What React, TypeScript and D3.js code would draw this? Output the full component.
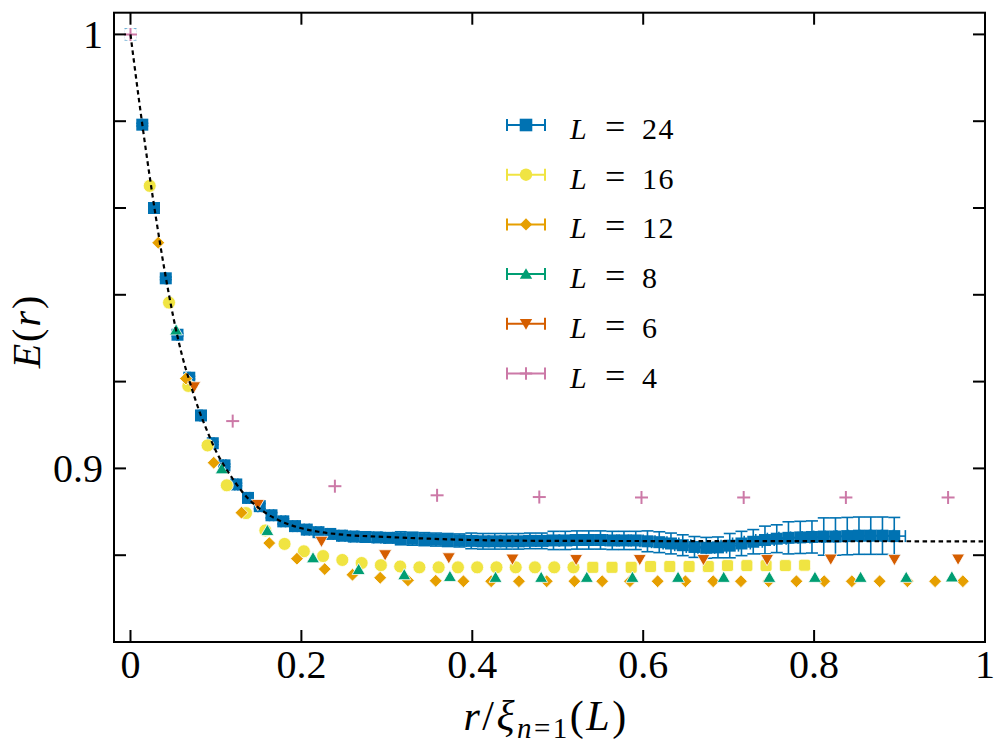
import React from 'react';
import * as d3 from 'd3';

// ---------- data ----------
const x24 = [0, 0.0138, 0.0275, 0.0413, 0.055, 0.0688, 0.0825, 0.0963, 0.11, 0.1238, 0.1375, 0.1513, 0.165, 0.1788, 0.1925, 0.2063, 0.22, 0.2338, 0.2475, 0.2613, 0.275, 0.2888, 0.3025, 0.3163, 0.33, 0.3438, 0.3575, 0.3713, 0.385, 0.3988, 0.4125, 0.4263, 0.44, 0.4538, 0.4675, 0.4813, 0.495, 0.5088, 0.5225, 0.5363, 0.55, 0.5638, 0.5775, 0.5913, 0.605, 0.6188, 0.6325, 0.6463, 0.66, 0.6738, 0.6875, 0.7013, 0.715, 0.7288, 0.7425, 0.7563, 0.77, 0.7838, 0.7975, 0.8113, 0.825, 0.8388, 0.8525, 0.8663, 0.88, 0.8938];
const y24 = [1.0, 0.9792, 0.96, 0.9438, 0.9308, 0.9209, 0.9122, 0.9058, 0.9007, 0.8963, 0.8932, 0.8913, 0.8892, 0.8878, 0.8867, 0.8859, 0.8853, 0.8849, 0.8845, 0.8843, 0.8842, 0.8841, 0.884, 0.8839, 0.8838, 0.8837, 0.8836, 0.8835, 0.8834, 0.8833, 0.8832, 0.8832, 0.8832, 0.8832, 0.8833, 0.8833, 0.8834, 0.8834, 0.8835, 0.8835, 0.8835, 0.8834, 0.8834, 0.8834, 0.8832, 0.883, 0.8827, 0.8823, 0.8819, 0.8817, 0.8818, 0.8822, 0.8827, 0.8831, 0.8835, 0.8838, 0.884, 0.8841, 0.8842, 0.8843, 0.8843, 0.8844, 0.8845, 0.8845, 0.8845, 0.8844];
const yErr24 = [0.0003, 0.0003, 0.0003, 0.0003, 0.0003, 0.0003, 0.0003, 0.0003, 0.0003, 0.0003, 0.0006, 0.0006, 0.0006, 0.0006, 0.0006, 0.0006, 0.0006, 0.0006, 0.0011, 0.0011, 0.0011, 0.0011, 0.0011, 0.0015, 0.0015, 0.0015, 0.0015, 0.0015, 0.0015, 0.0018, 0.0018, 0.0018, 0.0018, 0.0018, 0.0018, 0.0018, 0.0021, 0.0021, 0.0021, 0.0021, 0.0021, 0.0021, 0.0021, 0.0021, 0.0024, 0.0024, 0.0024, 0.0024, 0.0024, 0.0024, 0.0024, 0.0028, 0.0028, 0.0028, 0.0032, 0.0032, 0.0037, 0.0037, 0.0037, 0.0043, 0.0043, 0.0043, 0.0043, 0.0043, 0.0043, 0.0043];
const xErr24 = [0, 0.0002, 0.0004, 0.0006, 0.0008, 0.001, 0.0012, 0.0014, 0.0016, 0.0018, 0.002, 0.0022, 0.0024, 0.0026, 0.0028, 0.003, 0.0032, 0.0034, 0.0036, 0.0038, 0.004, 0.0042, 0.0044, 0.0046, 0.0048, 0.005, 0.0052, 0.0054, 0.0056, 0.0058, 0.006, 0.0062, 0.0064, 0.0066, 0.0068, 0.007, 0.0072, 0.0074, 0.0076, 0.0078, 0.008, 0.0082, 0.0084, 0.0086, 0.0088, 0.009, 0.0092, 0.0094, 0.0096, 0.0098, 0.01, 0.0102, 0.0104, 0.0106, 0.0108, 0.011, 0.0112, 0.0114, 0.0116, 0.0118, 0.012, 0.0122, 0.0124, 0.0126, 0.0128, 0.013];

const x16 = [0, 0.0225, 0.0451, 0.0676, 0.0902, 0.1127, 0.1352, 0.1578, 0.1803, 0.2029, 0.2254, 0.2479, 0.2705, 0.293, 0.3156, 0.3381, 0.3606, 0.3832, 0.4057, 0.4283, 0.4508, 0.4733, 0.4959, 0.5184, 0.541, 0.5635, 0.586, 0.6086, 0.6311, 0.6537, 0.6762, 0.6987, 0.7213, 0.7438, 0.7664, 0.7889];
const y16 = [1.0, 0.9651, 0.9382, 0.919, 0.9053, 0.8961, 0.8897, 0.8857, 0.8826, 0.8809, 0.8798, 0.8789, 0.8782, 0.8777, 0.8774, 0.8772, 0.8772, 0.8772, 0.8772, 0.8772, 0.8772, 0.8772, 0.8772, 0.8772, 0.8772, 0.8772, 0.8772, 0.8774, 0.8774, 0.8774, 0.8774, 0.8776, 0.8776, 0.8776, 0.8776, 0.8777];

const x12 = [0, 0.0325, 0.0649, 0.0974, 0.1299, 0.1624, 0.1948, 0.2273, 0.2598, 0.2922, 0.3247, 0.3572, 0.3896, 0.4221, 0.4546, 0.4871, 0.5195, 0.552, 0.5845, 0.6169, 0.6494, 0.6819, 0.7144, 0.7468, 0.7793, 0.8118, 0.8442, 0.8767, 0.9092, 0.9416, 0.9741];
const y12 = [1.0, 0.952, 0.9207, 0.9013, 0.8898, 0.8828, 0.8792, 0.8768, 0.8755, 0.8748, 0.8742, 0.8741, 0.874, 0.874, 0.874, 0.874, 0.874, 0.874, 0.874, 0.874, 0.874, 0.874, 0.874, 0.874, 0.874, 0.874, 0.874, 0.874, 0.874, 0.874, 0.874];

const x8 = [0, 0.0534, 0.1068, 0.1602, 0.2136, 0.267, 0.3204, 0.3738, 0.4272, 0.4806, 0.534, 0.5874, 0.6408, 0.6942, 0.7476, 0.801, 0.8544, 0.9078, 0.9612];
const y8 = [1.0, 0.9319, 0.8999, 0.8857, 0.8794, 0.8767, 0.8755, 0.8751, 0.8749, 0.8749, 0.8749, 0.8749, 0.8749, 0.8749, 0.8749, 0.8749, 0.8749, 0.8749, 0.875];

const x6 = [0, 0.0745, 0.149, 0.2235, 0.298, 0.3725, 0.447, 0.5215, 0.596, 0.6705, 0.745, 0.8195, 0.894, 0.9685];
const y6 = [1.0, 0.9188, 0.8917, 0.8832, 0.8801, 0.8794, 0.8791, 0.879, 0.879, 0.879, 0.879, 0.8791, 0.879, 0.8791];

const x4 = [0, 0.1196, 0.2392, 0.3588, 0.4784, 0.598, 0.7176, 0.8372, 0.9568];
const y4 = [1.0, 0.9109, 0.8959, 0.8938, 0.8934, 0.8933, 0.8933, 0.8933, 0.8933];

const fitX = [0, 0.01, 0.02, 0.03, 0.04, 0.05, 0.06, 0.07, 0.08, 0.09, 0.1, 0.11, 0.12, 0.13, 0.14, 0.15, 0.16, 0.18, 0.2, 0.22, 0.25, 0.3, 0.35, 0.4, 0.5, 1.0];
const fitY = [1.0, 0.9848, 0.9706, 0.9575, 0.9455, 0.935, 0.9263, 0.9195, 0.9135, 0.9085, 0.904, 0.9005, 0.8975, 0.8948, 0.8926, 0.8909, 0.8895, 0.8875, 0.8862, 0.8854, 0.8847, 0.8842, 0.8838, 0.8835, 0.8833, 0.8832];

const xTicks = [0, 0.2, 0.4, 0.6, 0.8, 1];
const xTickLabels = ['0', '0.2', '0.4', '0.6', '0.8', '1'];
const yTicks = [0.88, 0.9, 0.92, 0.94, 0.96, 0.98, 1.0];
const yLabelTicks = [0.9, 1.0];
const yTickLabels = ['0.9', '1'];
const legendLabels = ['24', '16', '12', '8', '6', '4'];

// ---------- styling ----------
const W = 996;
const H = 747;
const FONT = '"Liberation Serif", "Times New Roman", serif';

type Shape = 'square' | 'circle' | 'roundsq' | 'diamond' | 'triUp' | 'triDown' | 'plus';

const series = [
  { xs: x24, ys: y24, color: '#0072B2', shape: 'square' as Shape },
  { xs: x16, ys: y16, color: '#F0E442', shape: 'circle' as Shape, altShape: 'roundsq' as Shape, altFrom: 0.53 },
  { xs: x12, ys: y12, color: '#E69F00', shape: 'diamond' as Shape },
  { xs: x8, ys: y8, color: '#009E73', shape: 'triUp' as Shape },
  { xs: x6, ys: y6, color: '#D55E00', shape: 'triDown' as Shape },
  { xs: x4, ys: y4, color: '#CC79A7', shape: 'plus' as Shape },
];

function Marker({ shape, cx, cy, fill, stroke, sw, s = 1 }: { shape: Shape; cx: number; cy: number; fill: string; stroke?: string; sw?: number; s?: number }) {
  const st = stroke ?? 'none';
  const w = sw ?? 0;
  switch (shape) {
    case 'square':
      return <rect x={cx - 6 * s} y={cy - 6 * s} width={12 * s} height={12 * s} fill={fill} stroke={st} strokeWidth={w} />;
    case 'roundsq':
      return <rect x={cx - 6 * s} y={cy - 6 * s} width={12 * s} height={12 * s} rx={2.5} fill={fill} stroke={st} strokeWidth={w} />;
    case 'circle':
      return <circle cx={cx} cy={cy} r={6.5 * s} fill={fill} stroke={st} strokeWidth={w} />;
    case 'diamond': {
      const r = 6.4 * s;
      return <path d={`M${cx},${cy - r}L${cx + r},${cy}L${cx},${cy + r}L${cx - r},${cy}Z`} fill={fill} stroke={st} strokeWidth={w} />;
    }
    case 'triUp':
      return <path d={`M${cx},${cy - 6.2 * s}L${cx + 6.5 * s},${cy + 5 * s}L${cx - 6.5 * s},${cy + 5 * s}Z`} fill={fill} stroke={st} strokeWidth={w} />;
    case 'triDown':
      return <path d={`M${cx},${cy + 6.2 * s}L${cx + 6.5 * s},${cy - 5 * s}L${cx - 6.5 * s},${cy - 5 * s}Z`} fill={fill} stroke={st} strokeWidth={w} />;
    case 'plus':
      return (
        <g stroke={fill} strokeWidth={2}>
          <line x1={cx - 6.5 * s} x2={cx + 6.5 * s} y1={cy} y2={cy} />
          <line x1={cx} x2={cx} y1={cy - 6.5 * s} y2={cy + 6.5 * s} />
        </g>
      );
  }
  return null;
}

export default function App() {
  const left = 114, right = 985, top = 12.7, bottom = 642;
  const x = d3.scaleLinear().domain([-0.0193, 1.0]).range([left, right]);
  const y = d3.scaleLinear().domain([0.86, 1.005]).range([bottom, top]);

  const fitLine = d3
    .line<number>()
    .x((_, i) => x(fitX[i]))
    .y((d) => y(d))
    .curve(d3.curveMonotoneX);

  const cap = 6;
  const s24 = series[0];

  return (
    <svg width={W} height={H} style={{ position: 'absolute', left: 0, top: 0, background: '#fff' }} fontFamily={FONT}>
      <rect x={0} y={0} width={W} height={H} fill="#fff" />
      <defs>
        <clipPath id="plotclip">
          <rect x={left} y={top} width={right - left} height={bottom - top} />
        </clipPath>
      </defs>

      <g clipPath="url(#plotclip)">
        {/* L = 24 error bars */}
        <g stroke={s24.color} strokeWidth={1.6} fill="none">
          {x24.map((xv, i) => {
            const cx = x(xv), cy = y(y24[i]);
            const yt = y(y24[i] + yErr24[i]), yb = y(y24[i] - yErr24[i]);
            const xl = x(xv - xErr24[i]), xr = x(xv + xErr24[i]);
            return (
              <g key={i}>
                <line x1={cx} x2={cx} y1={yt} y2={yb} />
                <line x1={cx - cap} x2={cx + cap} y1={yt} y2={yt} />
                <line x1={cx - cap} x2={cx + cap} y1={yb} y2={yb} />
                <line x1={xl} x2={xr} y1={cy} y2={cy} />
                <line x1={xl} x2={xl} y1={cy - cap} y2={cy + cap} />
                <line x1={xr} x2={xr} y1={cy - cap} y2={cy + cap} />
              </g>
            );
          })}
        </g>

        {series.map((s, si) => (
          <g key={si}>
            {s.xs.map((xv, i) => {
              const shape = (s as any).altShape && xv >= (s as any).altFrom ? (s as any).altShape : s.shape;
              const isOrigin = xv === 0 && si > 0 && si < series.length - 1;
              return (
                <Marker
                  key={i}
                  shape={shape}
                  cx={x(xv)}
                  cy={y(s.ys[i])}
                  fill={isOrigin ? '#fff' : s.color}
                  stroke={si === 0 ? undefined : '#fff'}
                  sw={si === 0 ? 0 : 0.8}
                />
              );
            })}
          </g>
        ))}

        <path d={fitLine(fitY) ?? ''} fill="none" stroke="#000" strokeWidth={2.2} strokeDasharray="4.5 3.5" />
      </g>

      {/* frame */}
      <rect x={left} y={top} width={right - left} height={bottom - top} fill="none" stroke="#000" strokeWidth={2} />

      {/* ticks */}
      <g stroke="#000" strokeWidth={2}>
        {xTicks.map((t) => (
          <g key={t}>
            <line x1={x(t)} x2={x(t)} y1={bottom} y2={bottom - 12} />
            <line x1={x(t)} x2={x(t)} y1={top} y2={top + 12} />
          </g>
        ))}
        {yTicks.map((t) => (
          <g key={t}>
            <line x1={left} x2={left + 12} y1={y(t)} y2={y(t)} />
            <line x1={right} x2={right - 12} y1={y(t)} y2={y(t)} />
          </g>
        ))}
      </g>

      {/* tick labels */}
      <g fontSize={40} fill="#000">
        {xTicks.map((t, i) => (
          <text key={t} x={x(t)} y={678} textAnchor="middle">
            {xTickLabels[i]}
          </text>
        ))}
        {yLabelTicks.map((t, i) => (
          <text key={t} x={103} y={y(t) + 13.5} textAnchor="end">
            {yTickLabels[i]}
          </text>
        ))}
      </g>

      {/* axis labels */}
      <text x={546} y={730} textAnchor="middle" fontSize={42} letterSpacing={2.5} fill="#000">
        <tspan fontStyle="italic">r</tspan>
        <tspan>/</tspan>
        <tspan fontStyle="italic">ξ</tspan>
        <tspan fontSize={29} fontStyle="italic" dy={8}>n</tspan>
        <tspan fontSize={29}>=1</tspan>
        <tspan dy={-8}>(</tspan>
        <tspan fontStyle="italic">L</tspan>
        <tspan>)</tspan>
      </text>
      <text transform="translate(40,331) rotate(-90)" textAnchor="middle" fontSize={40} letterSpacing={2} fill="#000">
        <tspan fontStyle="italic">E</tspan>
        <tspan>(</tspan>
        <tspan fontStyle="italic">r</tspan>
        <tspan>)</tspan>
      </text>

      {/* legend */}
      <g>
        {series.map((s, i) => {
          const ly = 125 + i * 49.7;
          const lx0 = 507, lx1 = 545, lc = 526;
          return (
            <g key={i}>
              <g stroke={s.color} strokeWidth={2}>
                <line x1={lx0} x2={lx1} y1={ly} y2={ly} />
                <line x1={lx0} x2={lx0} y1={ly - 6} y2={ly + 6} />
                <line x1={lx1} x2={lx1} y1={ly - 6} y2={ly + 6} />
              </g>
              <Marker shape={s.shape} cx={lc} cy={ly} fill={s.color} s={i === 0 ? 1.05 : 0.95} />
              <text x={570} y={ly + 14} fontSize={30} fill="#000">
                <tspan fontStyle="italic">L</tspan>
              </text>
              <text x={605} y={ly + 14} fontSize={36} fill="#000">=</text>
              <text x={642} y={ly + 14} fontSize={30} letterSpacing={1.5} fill="#000">{legendLabels[i]}</text>
            </g>
          );
        })}
      </g>
    </svg>
  );
}
